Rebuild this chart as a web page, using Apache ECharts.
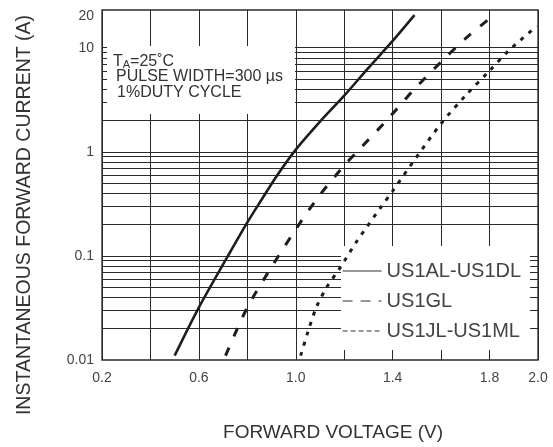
<!DOCTYPE html>
<html><head><meta charset="utf-8">
<script src="https://cdn.jsdelivr.net/npm/echarts@6/dist/echarts.min.js"></script>
<style>html,body{margin:0;padding:0;background:#fff}#c{width:553px;height:447px}</style>
</head><body><div id="c"></div>
<script>
// ---- data ----
const seriesNames = ['US1AL-US1DL', 'US1GL', 'US1JL-US1ML'];
const solidX = [0.50, 0.60, 0.72, 0.80, 0.86, 0.92, 1.00, 1.10, 1.20, 1.30, 1.40, 1.49];
const solidY = [0.011, 0.032, 0.10, 0.21, 0.35, 0.58, 1.05, 1.95, 3.46, 6.4, 11.6, 20.5];
const dashX = [0.71, 0.80, 0.895, 1.00, 1.09, 1.20, 1.26, 1.38, 1.49, 1.61, 1.70, 1.80];
const dashY = [0.011, 0.032, 0.075, 0.18, 0.36, 0.74, 1.04, 2.06, 4.0, 7.7, 12.2, 19];
const dotX = [1.02, 1.05, 1.085, 1.13, 1.18, 1.25, 1.35, 1.40, 1.50, 1.60, 1.70, 1.80, 1.88, 1.995];
const dotY = [0.011, 0.0186, 0.032, 0.051, 0.075, 0.136, 0.29, 0.42, 0.9, 1.87, 3.45, 6.0, 9.4, 16.1];
const xTickLabels = ['0.2', '0.6', '1.0', '1.4', '1.8', '2.0'];
const yTickValues = [0.01, 0.1, 1, 10, 20];
const yTickLabels = ['0.01', '0.1', '1', '10', '20'];
const yGridValues = [0.02, 0.03, 0.04, 0.05, 0.06, 0.07, 0.08, 0.09, 0.1,
                     0.2, 0.3, 0.4, 0.5, 0.6, 0.7, 0.8, 0.9, 1,
                     2, 3, 4, 5, 6, 7, 8, 9, 10];
const noteLines = ['PULSE WIDTH=300 \u00b5s', '1%DUTY CYCLE'];

// ---- chart ----
const FONT = '"Liberation Sans", Arial, sans-serif';
const INK = '#1e1e1e';
const zip = (xs, ys) => xs.map((x, i) => [x, ys[i]]);
const chart = echarts.init(document.getElementById('c'), null, {renderer: 'canvas'});
const curveStyle = {type: 'line', zlevel: 2, z: 3, symbol: 'none', showSymbol: false, smooth: 0.3, color: INK};
chart.setOption({
  animation: false,
  backgroundColor: '#fff',
  grid: {left: 102, right: 15, top: 10, bottom: 87, show: true, borderColor: '#2a2a2a', borderWidth: 1.3, backgroundColor: '#fff'},
  xAxis: {
    type: 'value', min: 0.2, max: 2.0, interval: 0.2,
    axisLine: {show: false}, axisTick: {show: false},
    splitLine: {show: true, lineStyle: {color: '#2a2a2a', width: 1}},
    axisLabel: {
      color: '#444', fontSize: 14, fontFamily: FONT, margin: 11,
      formatter: v => { const s = v.toFixed(1); return xTickLabels.includes(s) ? s : ''; }
    },
    name: 'FORWARD VOLTAGE (V)', nameLocation: 'middle', nameGap: 63,
    nameTextStyle: {color: '#333', fontSize: 19, fontFamily: FONT, padding: [0, 0, 0, 26]}
  },
  yAxis: {
    type: 'log', logBase: 10, min: 0.01, max: 23,
    axisLine: {show: false}, axisTick: {show: false},
    splitLine: {show: false}, minorSplitLine: {show: false},
    axisLabel: {
      color: '#444', fontSize: 14, fontFamily: FONT, margin: 8,
      customValues: yTickValues,
      formatter: v => {
        let best = 0, d = Infinity;
        yTickValues.forEach((t, i) => { const dd = Math.abs(Math.log10(v) - Math.log10(t)); if (dd < d) { d = dd; best = i; } });
        return d < 0.01 ? yTickLabels[best] : '';
      }
    },
    name: 'INSTANTANEOUS FORWARD CURRENT (A)', nameLocation: 'middle', nameGap: 67, nameRotate: 90,
    nameTextStyle: {color: '#333', fontSize: 19.5, fontFamily: FONT, padding: [0, 60, 0, 0]}
  },
  legend: {
    zlevel: 2,
    orient: 'vertical', left: 342, top: 261, padding: 0, itemWidth: 39, itemHeight: 14, itemGap: 10,
    textStyle: {color: '#444', fontSize: 20, fontFamily: FONT, lineHeight: 20},
    data: [
      {name: seriesNames[0], itemStyle: {opacity: 0}, lineStyle: {width: 1.2, type: 'solid', color: '#333'}},
      {name: seriesNames[1], itemStyle: {opacity: 0}, lineStyle: {width: 1.2, type: [10, 8], color: '#333'}},
      {name: seriesNames[2], itemStyle: {opacity: 0}, lineStyle: {width: 1.2, type: [5, 3], color: '#333'}}
    ]
  },
  graphic: {
    elements: [
      {type: 'rect', zlevel: 1, silent: true, shape: {x: 107, y: 46, width: 188, height: 68}, style: {fill: '#fff'}},
      {type: 'rect', zlevel: 1, silent: true, shape: {x: 341, y: 246, width: 189, height: 104}, style: {fill: '#fff'}},
      {type: 'text', zlevel: 1, z: 3, x: 113, y: 61, style: {
        text: '{a|T}{b|A}{a|=25\u02daC}', verticalAlign: 'middle', fill: '#333',
        rich: {a: {fontSize: 16, fontFamily: FONT, fill: '#333', verticalAlign: 'bottom', lineHeight: 18},
               b: {fontSize: 11, fontFamily: FONT, fill: '#333', verticalAlign: 'bottom', lineHeight: 14}}
      }},
      {type: 'text', zlevel: 1, z: 3, x: 116, y: 77, style: {text: noteLines[0], font: '16px ' + FONT, fill: '#333', verticalAlign: 'middle'}},
      {type: 'text', zlevel: 1, z: 3, x: 117, y: 93, style: {text: noteLines[1], font: '16px ' + FONT, fill: '#333', verticalAlign: 'middle'}}
    ]
  },
  series: [
    {
      name: 'grid', type: 'line', data: [], z: 1, silent: true,
      markLine: {
        silent: true, symbol: ['none', 'none'], label: {show: false},
        lineStyle: {color: '#2a2a2a', width: 1, type: 'solid'},
        emphasis: {disabled: true},
        data: yGridValues.map(v => ({yAxis: v}))
      }
    },
    Object.assign({}, curveStyle, {name: seriesNames[0], data: zip(solidX, solidY),
      lineStyle: {color: INK, width: 2.6, type: 'solid'}}),
    Object.assign({}, curveStyle, {name: seriesNames[1], data: zip(dashX, dashY),
      lineStyle: {color: INK, width: 3, type: [9, 12], cap: 'butt'}}),
    Object.assign({}, curveStyle, {name: seriesNames[2], data: zip(dotX, dotY),
      lineStyle: {color: INK, width: 3, type: [4, 6.5], cap: 'butt'}})
  ]
});
</script>
</body></html>
